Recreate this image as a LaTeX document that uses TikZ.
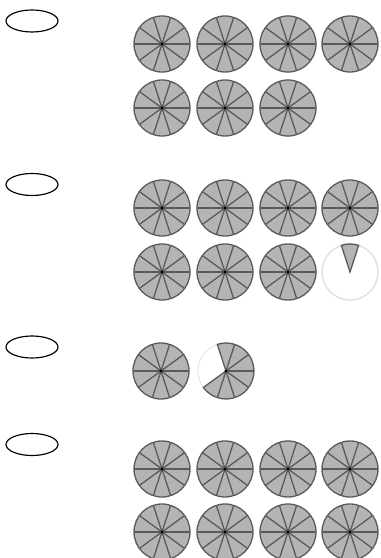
\documentclass[tikz,border=0pt]{standalone}
\usepackage{tikz}
\usetikzlibrary{shapes.geometric}

\definecolor{fatia}{RGB}{180,180,180}
\definecolor{risco}{RGB}{90,90,90}
\definecolor{vazio}{RGB}{222,222,222}

\tikzset{
  opcao/.style={draw, ellipse, line width=1pt, minimum width=52*0.03cm, minimum height=22*0.03cm, inner sep=0pt},
  corte/.style={risco, line width=1.1pt}
}

% pizza inteira: centro (x,y)
\newcommand{\pizza}[2]{%
  \fill[fatia] (#1,#2) circle (28);
  \foreach \a in {0,36,...,324} \draw[corte] (#1,#2) -- ++(\a:28);
  \draw[corte] (#1,#2) circle (28);
  \fill[black] (#1,#2) circle (1.6);
}
% pedaco de pizza: centro (x,y), angulo inicial e final
\newcommand{\pedaco}[4]{%
  \fill[fatia] (#1,#2) -- ++(#3:28) arc (#3:#4:28) -- cycle;
  \draw[corte] (#1,#2) -- ++(#3:28) arc (#3:#4:28) -- cycle;
}

\begin{document}
\begin{tikzpicture}[x=0.03cm, y=0.03cm]
        \useasboundingbox (0,0) rectangle (380,558);

        % Alternativas
        \node[opcao] (A) at (32,537) {};
        \node[opcao] (B) at (32,373.5) {};
        \node[opcao] (C) at (32,211) {};
        \node[opcao] (D) at (32,113.5) {};

        % A: 7 pizzas
        \foreach \x in {162,225,288,350} \pizza{\x}{514};
        \foreach \x in {162,225,288} \pizza{\x}{450};

        % B: 7 pizzas e 1 pedaco
        \foreach \x in {162,225,288,350} \pizza{\x}{350};
        \foreach \x in {162,225,288} \pizza{\x}{286};
        \draw[vazio, line width=1.1pt] (350,286) circle (28);
        \pedaco{350}{286}{72}{108}

        % C: 1 pizza e 7 pedacos
        \pizza{161}{187}
        \draw[vazio, line width=0.6pt] (226,187) circle (28);
        \pedaco{226}{187}{-144}{108}
        \foreach \a in {-108,-72,...,72} \draw[corte] (226,187) -- ++(\a:28);
        \fill[black] (226,187) circle (1.6);

        % D: 8 pizzas
        \foreach \x in {162,225,288,350} \pizza{\x}{89};
        \foreach \x in {162,225,288,350} \pizza{\x}{26};
    \end{tikzpicture}
\end{document}
